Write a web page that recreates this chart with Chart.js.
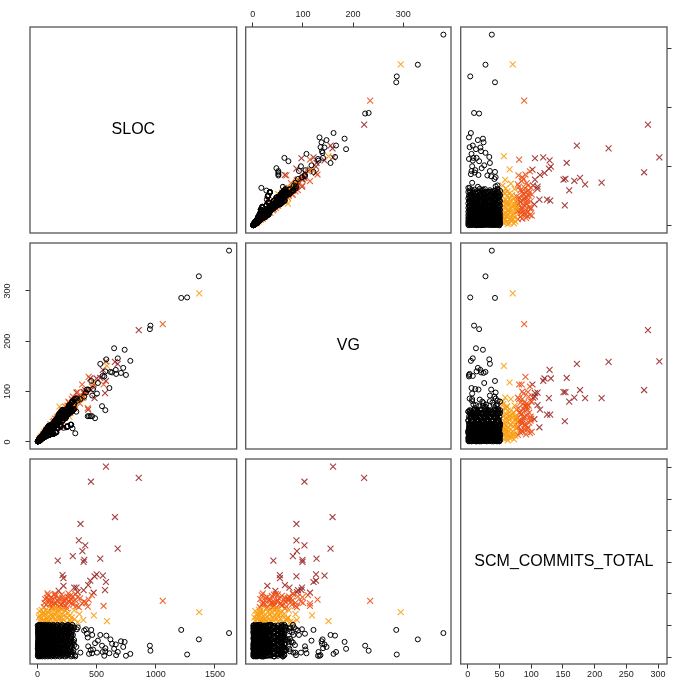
<!DOCTYPE html>
<html>
<head>
<meta charset="utf-8">
<script src="https://cdn.jsdelivr.net/npm/chart.js@4.4.0/dist/chart.umd.min.js"></script>
<style>
  html, body { margin: 0; padding: 0; background: #fff; overflow: hidden; }
  #wrap { position: relative; width: 678px; height: 682px; }
  #wrap canvas { position: absolute; left: 0; top: 0; }
</style>
</head>
<body>
<div id="wrap"></div>
<script>
// Variable names (diagonal labels) and axis tick values
const variableNames = ['SLOC', 'VG', 'SCM_COMMITS_TOTAL'];
const slocTicks = [0, 500, 1000, 1500];
const vgTicks = [0, 100, 200, 300];
const commitTicks = [0, 50, 100, 150, 200, 250, 300];

// Each module: [SLOC, VG, SCM_COMMITS_TOTAL]
// Cluster 1: low commit activity (black circles)
const lowPts = [
  [1619,380,38],[1364,329,28],[1265,287,4],[1215,286,43],[955,231,10],[950,224,18],
  [785,161,5],[748,133,2],[737,183,24],[706,137,25],[679,166,8],[665,135,3],[662,143,20],
  [648,186,13],[631,138,21],[617,139,28],[582,164,34],[574,140,14],[565,130,2],[551,131,8],
  [531,155,35],[511,117,26],[503,96,7],[470,105,12],[463,92,35],[455,121,43],[429,104,17],
  [418,104,37],[341,82,47],[333,86,44],[395,90,42],[725,147,16],
  [363,85,7],[329,60,16],[306,72,24],[320,17,1],[297,27,3],[436,51,5],[462,51,6],[487,47,22],
  [546,71,18],[574,63,9],[608,107,6],[410,98,44],[275,65,48],[311,75,47],[277,70,28],
  [241,60,30],[425,51,31],[450,51,11],[221,28,12],
  [6,2,1],[22,6,1],[41,9,1],[63,19,1],[88,21,1],[117,22,1],[150,42,1],[188,43,1],[232,60,1],[285,60,1],
  [3,1,2],[14,2,2],[28,8,2],[48,9,2],[72,24,2],[100,14,2],[132,36,2],[168,27,2],[208,50,2],[250,30,2],
  [12,3,3],[30,10,3],[52,15,3],[76,15,3],[103,32,3],[134,36,3],[170,36,3],[210,63,3],[258,57,3],[318,86,3],
  [10,2,4],[24,9,4],[44,7,4],[66,20,4],[92,14,4],[122,34,4],[156,19,4],[194,49,4],[236,47,4],[282,62,4],
  [7,2,5],[20,5,5],[38,8,5],[60,18,5],[85,20,5],[113,22,5],[145,41,5],[181,42,5],[223,58,5],[262,55,5],
  [5,1,6],[16,6,6],[30,5,6],[50,16,6],[74,11,6],[102,29,6],[134,16,6],[170,43,6],[210,42,6],[252,55,6],
  [9,2,7],[26,8,7],[47,14,7],[70,14,7],[96,30,7],[126,34,7],[160,34,7],[198,59,7],[244,54,7],[300,81,7],
  [12,4,8],[26,4,8],[46,14,8],[68,12,8],[94,31,8],[124,17,8],[158,43,8],[196,31,8],[238,57,8],[284,34,8],
  [8,2,9],[24,8,9],[43,12,9],[65,13,9],[90,28,9],[119,32,9],[152,32,9],[190,57,9],[235,52,9],[276,74,9],
  [7,2,10],[18,3,10],[32,10,10],[52,9,10],[76,25,10],[104,15,10],[136,37,10],[172,28,10],[212,51,10],[254,31,10],
  [12,4,11],[30,8,11],[52,11,11],[76,23,11],[103,25,11],[134,25,11],[170,48,11],[210,48,11],[258,67,11],[305,64,11],
  [8,2,12],[22,8,12],[42,7,12],[64,20,12],[90,14,12],[120,34,12],[154,18,12],[192,48,12],[234,47,12],[280,62,12],
  [4,1,13],[17,5,13],[35,10,13],[57,11,13],[82,25,13],[110,30,13],[142,30,13],[178,53,13],[220,48,13],[270,73,13],
  [3,1,14],[14,5,14],[28,5,14],[48,15,14],[72,11,14],[100,28,14],[132,16,14],[168,42,14],[208,42,14],[250,55,14],
  [9,3,15],[26,7,15],[47,10,15],[70,21,15],[96,23,15],[126,24,15],[160,45,15],[198,46,15],[244,63,15],[292,61,15],
  [10,4,16],[24,4,16],[44,13,16],[66,12,16],[92,30,16],[122,17,16],[156,42,16],[194,31,16],[236,57,16],[282,34,16],
  [5,2,17],[19,5,17],[38,9,17],[60,18,17],[85,20,17],[114,21,17],[147,41,17],[184,42,17],[228,59,17],[280,59,17],
  [4,1,18],[15,2,18],[29,9,18],[49,9,18],[73,24,18],[101,14,18],[133,36,18],[169,27,18],[209,50,18],[251,30,18],
  [15,4,19],[33,11,19],[56,16,19],[80,16,19],[107,33,19],[138,37,19],[174,37,19],[214,64,19],[262,58,19],[312,84,19],
  [13,3,20],[27,10,20],[47,8,20],[69,21,20],[95,14,20],[125,35,20],[159,19,20],[197,49,20],[239,48,20],[285,63,20],
  [4,1,21],[17,5,21],[35,8,21],[57,17,21],[82,20,21],[110,21,21],[142,40,21],[178,41,21],[220,57,21],[270,57,21],
  [8,2,22],[19,7,22],[33,6,22],[53,16,22],[77,12,22],[105,29,22],[137,16,22],[173,43,22],[213,43,22],[255,56,22],
  [6,2,23],[23,7,23],[44,13,23],[67,13,23],[93,29,23],[123,33,23],[157,33,23],[195,58,23],[241,53,23],[296,80,23],
  [9,3,24],[23,3,24],[43,13,24],[65,12,24],[91,30,24],[121,17,24],[155,42,24],[193,31,24],[235,56,24],[281,34,24],
  [6,2,25],[22,7,25],[41,12,25],[63,13,25],[88,27,25],[117,32,25],[150,32,25],[188,56,25],[232,51,25],[285,77,25],
  [6,2,26],[17,3,26],[31,9,26],[51,9,26],[75,25,26],[103,14,26],[135,36,26],[171,27,26],[211,51,26],[253,30,26],
  [15,5,27],[33,9,27],[55,12,27],[79,24,27],[106,25,27],[137,26,27],[173,48,27],[213,49,27],[261,68,27],[310,65,27],
  [11,2,28],[25,9,28],[45,8,28],[67,21,28],[93,14,28],[123,34,28],[157,19,28],[195,49,28],[237,47,28],[283,62,28],
  [9,2,29],[22,7,29],[40,12,29],[62,12,29],[87,27,29],[115,31,29],[147,31,29],[183,55,29],[225,50,29],[275,74,29],
  [6,1,30],[17,6,30],[31,5,30],[51,16,30],[75,11,30],[103,29,30],[135,16,30],[171,43,30],[211,42,30],[253,56,30],
  [11,3,31],[28,8,31],[49,11,31],[72,22,31],[98,24,31],[128,24,31],[162,45,31],[200,46,31],[246,64,31],[282,59,31],
  [14,5,32],[28,4,32],[48,14,32],[70,13,32],[96,32,32],[126,18,32],[160,43,32],[198,32,32],[240,58,32],[286,34,32],
  [10,3,33],[26,7,33],[45,10,33],[67,20,33],[92,22,33],[121,23,33],[154,43,33],[192,44,33],[236,61,33],[289,61,33],
  [5,2,34],[16,2,34],[30,9,34],[50,9,34],[74,24,34],[102,14,34],[134,36,34],[170,27,34],[210,50,34],[252,30,34],
  [9,2,35],[27,9,35],[49,14,35],[73,15,35],[100,31,35],[131,35,35],[167,35,35],[207,62,35],[255,56,35],[300,81,35],
  [15,3,36],[29,10,36],[49,8,36],[71,22,36],[97,15,36],[127,36,36],[161,19,36],[199,50,36],[241,48,36],[287,63,36],
  [10,3,37],[23,6,37],[41,9,37],[63,19,37],[88,21,37],[116,22,37],[148,41,37],[184,42,37],[226,59,37],[266,56,37],
  [4,1,38],[15,5,38],[29,5,38],[49,15,38],[73,11,38],[101,28,38],[133,16,38],[169,42,38],[209,42,38],[251,55,38],
  [14,4,39],[31,10,39],[52,15,39],[75,15,39],[101,31,39],[131,35,39],[165,35,39],[203,60,39],[249,55,39],[290,78,39],
  [11,4,40],[25,4,40],[45,14,40],[67,12,40],[93,31,40],[123,17,40],[157,42,40],[195,31,40],[237,57,40],[283,34,40],
  [5,1,41],[21,7,41],[40,12,41],[62,12,41],[87,27,41],[116,31,41],[149,31,41],[187,56,41],[231,51,41],[270,73,41],
  [8,3,42],[19,3,42],[33,10,42],[53,10,42],[77,25,42],[105,15,42],[137,37,42],[173,28,42],[213,51,42],[255,31,42],
  [10,3,43],[28,8,43],[50,11,43],[74,22,43],[101,24,43],[132,25,43],[168,47,43],[208,48,43],[256,67,43],[298,63,43],
  [9,2,44],[23,8,44],[43,7,44],[65,20,44],[91,14,44],[121,34,44],[155,19,44],[193,48,44],[235,47,44],[281,62,44],
  [6,2,45],[19,6,45],[37,11,45],[59,12,45],[84,26,45],[112,30,45],[144,30,45],[180,54,45],[222,49,45],[265,72,45],
  [7,1,46],[18,6,46],[32,5,46],[52,16,46],[76,11,46],[104,29,46],[136,16,46],[172,43,46],[212,42,46],[254,56,46],
  [15,4,47],[32,9,47],[53,12,47],[76,23,47],[102,24,47],[132,25,47],[166,47,47],[204,47,47],[250,65,47],[288,60,47],
  [13,5,48],[27,4,48],[47,14,48],[69,12,48],[95,31,48],[125,18,48],[159,43,48],[197,32,48],[239,57,48],[285,34,48],
  [7,2,49],[23,6,49],[42,9,49],[64,19,49],[89,21,49],[118,22,49],[151,42,49],[189,43,49],[233,61,49],[272,57,49],
  [2,1,50],[13,2,50],[27,8,50],[47,8,50],[71,23,50],[99,14,50],[131,35,50],[167,27,50],[207,50,50],[249,30,50],
  [13,3,51],[31,10,51],[53,15,51],[77,15,51],[104,32,51],[135,36,51],[171,36,51],[211,63,51],[259,57,51],[295,80,51]
];

// Cluster 2: moderate commit activity (orange)
const midPts = [
  [1367,295,71],[588,151,57],[477,118,66],[388,88,59],[186,70,62],[340,80,55],[310,72,74],
  [290,62,63],[275,68,58],[260,55,70],[245,60,54],[230,52,67],[220,48,60],[205,46,75],
  [195,42,57],[180,44,65],[170,38,72],[160,36,56],[150,33,61],[140,35,68],[130,30,54],
  [120,27,76],[110,26,59],[100,22,64],[92,21,71],[84,19,55],[76,17,62],[68,16,74],
  [60,14,58],[52,12,66],[45,10,53],[38,9,69],[30,7,61],[24,6,57],[18,5,73],[12,3,63],
  [315,66,60],[235,58,73],[200,50,56],[150,40,77],[125,28,64],[80,22,60],[55,15,70],
  [270,50,65],[355,85,68],
  [20,8,66],[35,12,75],[48,16,59],[62,18,68],[90,28,57],[105,30,72],[135,40,63],[165,48,70],
  [190,55,61],[210,62,68],[250,70,62],[285,75,56],[175,50,76],[115,33,67],[72,24,54]
];

// Cluster 3: high commit activity (orange-red)
const highPts = [
  [1059,234,89],[559,114,81],[433,129,91],[378,114,85],[340,99,95],[426,67,80],[460,110,98],
  [395,96,88],[350,88,79],[320,80,100],[300,78,83],[285,70,92],[270,66,87],[255,72,96],
  [240,58,81],[230,62,90],[215,55,85],[205,50,99],[195,47,78],[185,52,93],[175,42,88],
  [165,44,82],[155,38,97],[145,36,86],[135,33,91],[125,30,80],[115,29,95],[105,24,84],
  [95,25,89],[85,20,101],[75,19,83],[65,15,92],[55,14,79],[262,80,101],[248,64,77],
  [318,72,90],[290,85,86],[210,64,94],[180,40,80],[140,42,99],[225,48,88],[360,76,93],
  [278,58,97],
  [60,20,86],[80,25,94],[110,35,90],[130,40,84],[150,46,100],[170,50,90],[200,58,83],
  [235,70,93],[265,78,89],[300,90,96],[330,85,81],[410,100,86],[120,28,78],[90,18,98],[220,40,79]
];

// Cluster 4: very high commit activity (dark red)
const topPts = [
  [856,222,284],[579,160,302],[452,103,278],[678,155,172],[655,159,222],[531,127,156],
  [571,97,106],[579,121,119],[553,143,129],[500,126,131],[483,87,128],[475,114,102],
  [446,126,121],[429,64,114],[390,99,151],[396,99,154],[404,103,177],[350,87,185],
  [364,87,211],[299,80,160],[311,73,110],[220,29,113],[220,54,125],[212,54,130],
  [172,41,153],[390,90,106],[380,88,168],[180,45,105],[330,98,110],[340,88,103]
];

Chart.defaults.font.family = '"Liberation Sans", Arial, Helvetica, sans-serif';

const W = 678, H = 682;
// Panel grid geometry (3 x 3 scatterplot matrix)
const colLeft = [30, 245.7, 460.7], colRight = [236.7, 451, 667];
const rowTop = [27, 243, 459], rowBottom = [233, 449, 664];
const AXIS = { top: 27, bottom: 18, left: 30, right: 11 };

const allPts = lowPts.concat(midPts, highPts, topPts);
// Axis limits: data range widened by 4% on each side
function paddedRange(i) {
  const vals = allPts.map(p => p[i]);
  const lo = Math.min(...vals), hi = Math.max(...vals);
  const d = (hi - lo) * 0.04;
  return [lo - d, hi + d];
}
const variables = [
  { name: variableNames[0], ticks: slocTicks, range: paddedRange(0) },
  { name: variableNames[1], ticks: vgTicks, range: paddedRange(1) },
  { name: variableNames[2], ticks: commitTicks, range: paddedRange(2) }
];

const groups = [
  { pts: lowPts, style: 'circle', color: '#000000', radius: 2.5, width: 1 },
  { pts: midPts, style: 'crossRot', color: 'rgba(250,160,20,0.9)', radius: 4.2, width: 1.1 },
  { pts: highPts, style: 'crossRot', color: 'rgba(238,78,22,0.88)', radius: 4.2, width: 1.1 },
  { pts: topPts, style: 'crossRot', color: 'rgba(150,28,28,0.85)', radius: 4.2, width: 1.1 }
];

// Frame around each panel, plus the variable name on the diagonal
const panelBox = {
  id: 'panelBox',
  afterDraw(chart, args, opts) {
    const { ctx, chartArea: a } = chart;
    ctx.save();
    ctx.strokeStyle = '#555';
    ctx.lineWidth = 1.3;
    ctx.strokeRect(a.left, a.top, a.right - a.left, a.bottom - a.top);
    if (opts.label) {
      ctx.fillStyle = '#000';
      ctx.font = '16px "Liberation Sans", Arial, sans-serif';
      ctx.textAlign = 'center';
      ctx.textBaseline = 'middle';
      ctx.fillText(opts.label, (a.left + a.right) / 2, (a.top + a.bottom) / 2);
    }
    ctx.restore();
  }
};

// mode: null = hidden axis, 'ticks' = tick marks only, 'labels' = marks and numbers
function scaleFor(v, pos, mode) {
  const horizontal = pos === 'top' || pos === 'bottom';
  const shown = mode !== null;
  return {
    type: 'linear',
    position: pos,
    display: shown,
    min: v.range[0],
    max: v.range[1],
    afterBuildTicks: s => { s.ticks = v.ticks.map(value => ({ value })); },
    afterFit: s => {
      const size = shown ? AXIS[pos] : 0;
      if (horizontal) s.height = size; else s.width = size;
    },
    grid: { display: true, drawOnChartArea: false, drawTicks: true, tickLength: 4.5, tickColor: '#333', tickWidth: 1 },
    border: { display: false },
    ticks: {
      display: mode === 'labels',
      color: '#222',
      font: { size: 9 },
      callback: value => String(value),
      padding: pos === 'top' ? 3 : pos === 'bottom' ? 0.5 : 10,
      minRotation: horizontal ? 0 : 90,
      maxRotation: horizontal ? 0 : 90,
      crossAlign: horizontal ? 'near' : 'center'
    }
  };
}

const wrap = document.getElementById('wrap');
for (let r = 0; r < 3; r++) {
  for (let c = 0; c < 3; c++) {
    const xPos = (r === 2 && c % 2 === 0) ? 'bottom' : (r === 0 && c % 2 === 1) ? 'top' : null;
    const yPos = (c === 0 && r % 2 === 1) ? 'left' : (c === 2 && r % 2 === 0) ? 'right' : null;
    const canvas = document.createElement('canvas');
    canvas.width = W; canvas.height = H;
    wrap.appendChild(canvas);
    const padding = {
      left: colLeft[c] - (yPos === 'left' ? AXIS.left : 0),
      right: W - colRight[c] - (yPos === 'right' ? AXIS.right : 0),
      top: rowTop[r] - (xPos === 'top' ? AXIS.top : 0),
      bottom: H - rowBottom[r] - (xPos === 'bottom' ? AXIS.bottom : 0)
    };
    const datasets = r === c ? [] : groups.map(g => ({
      data: g.pts.map(p => ({ x: p[c], y: p[r] })),
      pointStyle: g.style,
      pointRadius: g.radius,
      borderColor: g.color,
      pointBorderColor: g.color,
      backgroundColor: 'rgba(0,0,0,0)',
      pointBackgroundColor: 'rgba(0,0,0,0)',
      borderWidth: g.width,
      pointBorderWidth: g.width
    }));
    new Chart(canvas, {
      type: 'scatter',
      data: { datasets },
      options: {
        responsive: false,
        animation: false,
        devicePixelRatio: 1,
        events: [],
        layout: { padding },
        scales: {
          x: scaleFor(variables[c], xPos || 'bottom', xPos ? 'labels' : null),
          y: scaleFor(variables[r], yPos || 'left', yPos === 'left' ? 'labels' : yPos === 'right' ? 'ticks' : null)
        },
        plugins: {
          legend: { display: false },
          tooltip: { enabled: false },
          panelBox: { label: r === c ? variables[r].name : null }
        }
      },
      plugins: [panelBox]
    });
  }
}
</script>
</body>
</html>
